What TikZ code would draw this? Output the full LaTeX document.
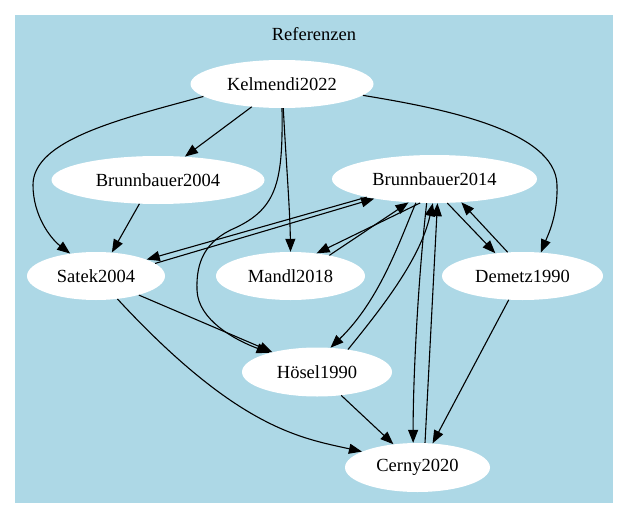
\documentclass[tikz,border=0pt]{standalone}
\usepackage{fontspec}
\setmainfont{Liberation Serif}
\usetikzlibrary{shapes.geometric,arrows.meta}
\definecolor{lightblue}{RGB}{173,216,230}
\begin{document}
\begin{tikzpicture}[x=1pt,y=-1pt,
  nd/.style={ellipse,fill=white,inner sep=0pt,minimum height=48pt,font=\fontsize{18.5}{22}\selectfont},
  ed/.style={draw=black,line width=1.1pt,-{Triangle[length=13pt,width=10pt]}}]
\useasboundingbox (0,0) rectangle (629,519);
\fill[lightblue] (15,15) rectangle (613,503);
\node[font=\fontsize{18.5}{22}\selectfont] (title) at (314,34) {Referenzen};
\node[nd,minimum width=183pt] (K) at (282,84) {Kelmendi2022};
\node[nd,minimum width=213pt] (B4) at (158,180) {Brunnbauer2004};
\node[nd,minimum width=205pt] (B14) at (434.5,179) {Brunnbauer2014};
\node[nd,minimum width=138pt] (S) at (96,276) {Satek2004};
\node[nd,minimum width=149pt] (M) at (290.5,276) {Mandl2018};
\node[nd,minimum width=161pt] (D) at (522.5,276) {Demetz1990};
\node[nd,minimum width=150pt,minimum height=49pt] (H) at (317,372) {Hösel1990};
\node[nd,minimum width=145pt,minimum height=49pt] (C) at (417.5,467.5) {Cerny2020};
% Kelmendi
\draw[ed] (K.189.3) .. controls (120,119) and (33,140) .. (33,185) .. controls (33,215) and (50,238) .. (S.139.6);
\draw[ed] (K.217.5) -- (B4.41.6);
\draw[ed] (K.273) .. controls (286,160) and (290,210) .. (M.90);
\draw[ed] (K.270) .. controls (283,180) and (278,208) .. (235,228) .. controls (205,241) and (196,262) .. (197,290) .. controls (198,320) and (235,340) .. (H.158.4);
\draw[ed] (K.352.9) .. controls (440,108) and (556,130) .. (557,185) .. controls (558,215) and (548,235) .. (D.52.7);
% Brunnbauer2004
\draw[ed] (B4.232) -- (S.56.3);
% Satek <-> Brunnbauer2014
\draw[ed] (B14.195.6) -- (S.18.4);
\draw[ed] (S.12) -- (B14.198);
% Mandl <-> Brunnbauer2014
\draw[ed] (B14.239.8) -- (M.41);
\draw[ed] (M.28) -- (B14.222.2);
% Hoesel <-> Brunnbauer2014
\draw[ed] (B14.232.4) .. controls (400,240) and (380,300) .. (H.61.6);
\draw[ed] (H.36.6) .. controls (380,310) and (420,260) .. (B14.266);
% Cerny <-> Brunnbauer2014
\draw[ed] (B14.252.6) .. controls (418,280) and (413,380) .. (C.100.8);
\draw[ed] (C.73) -- (B14.277.7);
% Demetz <-> Brunnbauer2014
\draw[ed] (B14.298) -- (D.140);
\draw[ed] (D.122) -- (B14.319.9);
% to Cerny
\draw[ed] (D.240.6) -- (C.58.3);
\draw[ed] (H.316.3) -- (C.136.1);
\draw[ed] (S.336.8) -- (H.156.6);
\draw[ed] (S.313.7) .. controls (237,428) and (300,438) .. (C.164);
\end{tikzpicture}
\end{document}
